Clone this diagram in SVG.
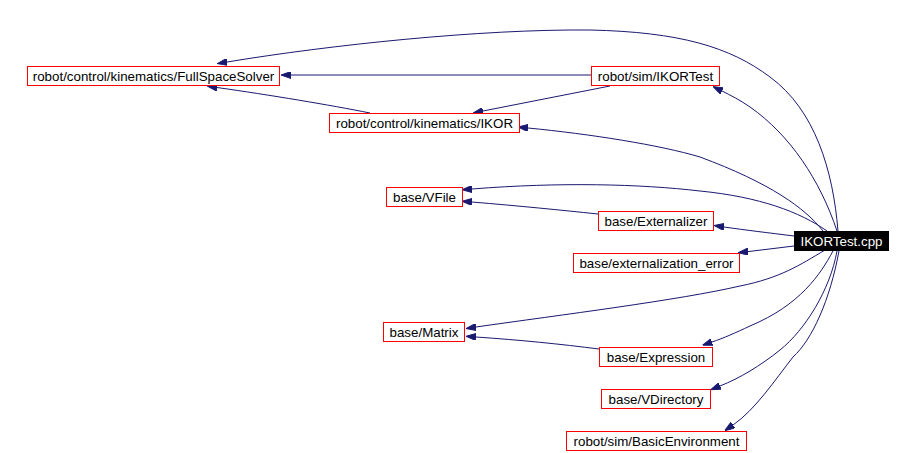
<svg xmlns="http://www.w3.org/2000/svg" width="913" height="453" viewBox="0 0 913 453">
<style>
.n rect{fill:#fff;stroke:#f00;stroke-width:1}
.n text{font-family:"Liberation Sans",Arial,sans-serif;font-size:13.33px;text-anchor:middle;fill:#000}
#cpp rect{fill:#000;stroke:#000}
#cpp text{fill:#fff}
#edges path{fill:none;stroke:#191970;stroke-width:1;marker-end:url(#ah)}
</style>
<defs>
<marker id="ah" viewBox="0 0 10 7" refX="0" refY="3.5" markerWidth="10" markerHeight="7" markerUnits="userSpaceOnUse" orient="auto">
<path d="M0,0 L10,3.5 L0,7 Z" fill="#191970" stroke="#191970" stroke-width="1"/>
</marker>
</defs>
<rect width="913" height="453" fill="#fff"/>
<g id="edges">
<path d="M838,231 C833,170 815,110 770,77 C730,47 680,32 590,30 C480,29 330,45 227,62"/>
<path d="M591,75 L291,75"/>
<path d="M370,113 C330,105 270,95 217,87.5"/>
<path d="M610,86 L483,111"/>
<path d="M837,231 C820,180 790,135 750,107 C740,100 730,95 722,91"/>
<path d="M823,231 C805,208 770,183 700,157 C660,145 590,134 528,128"/>
<path d="M827,231 C800,212 760,197 700,191 C640,184 560,182 472,189"/>
<path d="M598,214 C560,210 520,206 472,202"/>
<path d="M794,236 C770,233 745,230 724,227"/>
<path d="M794,246 L748,251.6"/>
<path d="M825,250 C800,265 780,278 740,286 C680,300 560,315 476,327"/>
<path d="M599,349 C560,344 520,340 476,337"/>
<path d="M833,251 C820,275 800,305 750,326 C735,333 724,338 712,342"/>
<path d="M837,251 C830,290 805,330 780,350 C760,366 740,378 720,386"/>
<path d="M839,251 C830,300 812,340 793,357 C775,380 755,410 733,425"/>
</g>
<g id="fullspacesolver" class="n"><rect x="27.5" y="66.5" width="252" height="19"/><text x="153.5" y="80.5">robot/control/kinematics/FullSpaceSolver</text></g>
<g id="ikortest" class="n"><rect x="591.5" y="66.5" width="128" height="19"/><text x="655.5" y="80.5">robot/sim/IKORTest</text></g>
<g id="ikor" class="n"><rect x="329.5" y="113.5" width="190" height="19"/><text x="424.5" y="127.5">robot/control/kinematics/IKOR</text></g>
<g id="vfile" class="n"><rect x="386.5" y="187.5" width="76" height="19"/><text x="424.5" y="201.5">base/VFile</text></g>
<g id="externalizer" class="n"><rect x="598.5" y="211.5" width="115" height="19"/><text x="656" y="225.5">base/Externalizer</text></g>
<g id="externalization_error" class="n"><rect x="573.5" y="253.5" width="166" height="19"/><text x="656.5" y="267.5">base/externalization_error</text></g>
<g id="matrix" class="n"><rect x="383.5" y="322.5" width="81" height="19"/><text x="424" y="336.5">base/Matrix</text></g>
<g id="expression" class="n"><rect x="599.5" y="347.5" width="113" height="19"/><text x="656" y="361.5">base/Expression</text></g>
<g id="vdirectory" class="n"><rect x="601.5" y="389.5" width="109" height="19"/><text x="656" y="403.5">base/VDirectory</text></g>
<g id="basicenvironment" class="n"><rect x="566.5" y="431.5" width="180" height="19"/><text x="656.5" y="445.5">robot/sim/BasicEnvironment</text></g>
<g id="cpp" class="n"><rect x="794.5" y="231.5" width="94" height="19"/><text x="841.5" y="245.5">IKORTest.cpp</text></g>
</svg>
